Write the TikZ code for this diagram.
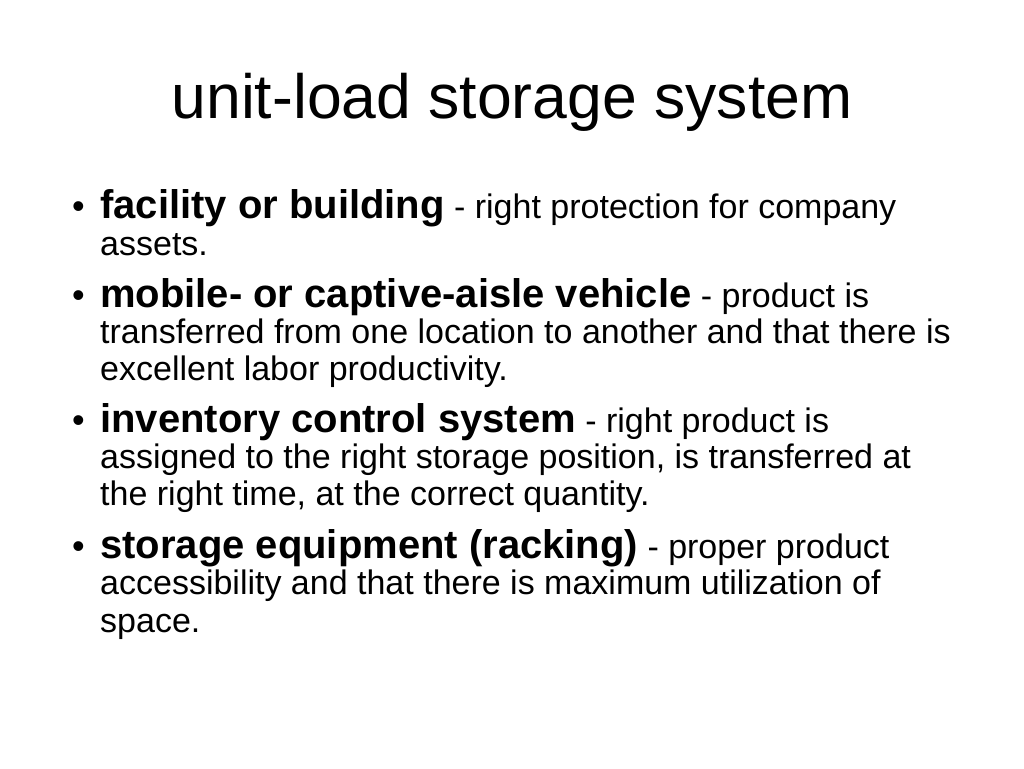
\documentclass[tikz,border=0pt]{standalone}
\usepackage{fontspec}
\setmainfont{Liberation Sans}
\begin{document}
\begin{tikzpicture}[x=1pt,y=-1pt,
  ln/.style={anchor=base west,inner sep=0pt,font=\fontsize{34}{40}\selectfont},
  bul/.style={anchor=base west,inner sep=0pt,font=\fontsize{36}{40}\selectfont}]
\useasboundingbox (0,0) rectangle (1024,768);
\node[anchor=base,inner sep=0pt,font=\fontsize{62.5}{70}\selectfont] (title) at (512,118) {unit-load storage system};
\newcommand{\B}[1]{{\fontsize{40}{44}\selectfont\bfseries #1}}
\node[bul] (b1) at (72,218) {•};
\node[ln] (l1) at (100,218) {\B{facility or building} - right protection for company};
\node[ln] (l2) at (100,255) {assets.};
\node[bul] (b2) at (72,307) {•};
\node[ln] (l3) at (100,307) {\B{mobile- or captive-aisle vehicle} - product is};
\node[ln] (l4) at (100,343) {transferred from one location to another and that there is};
\node[ln] (l5) at (100,380) {excellent labor productivity.};
\node[bul] (b3) at (72,432) {•};
\node[ln] (l6) at (100,432) {\B{inventory control system} - right product is};
\node[ln] (l7) at (100,468) {assigned to the right storage position, is transferred at};
\node[ln] (l8) at (100,505) {the right time, at the correct quantity.};
\node[bul] (b4) at (72,558) {•};
\node[ln] (l9) at (100,558) {\B{storage equipment (racking)} - proper product};
\node[ln] (l10) at (100,594) {accessibility and that there is maximum utilization of};
\node[ln] (l11) at (100,632) {space.};
\end{tikzpicture}
\end{document}
